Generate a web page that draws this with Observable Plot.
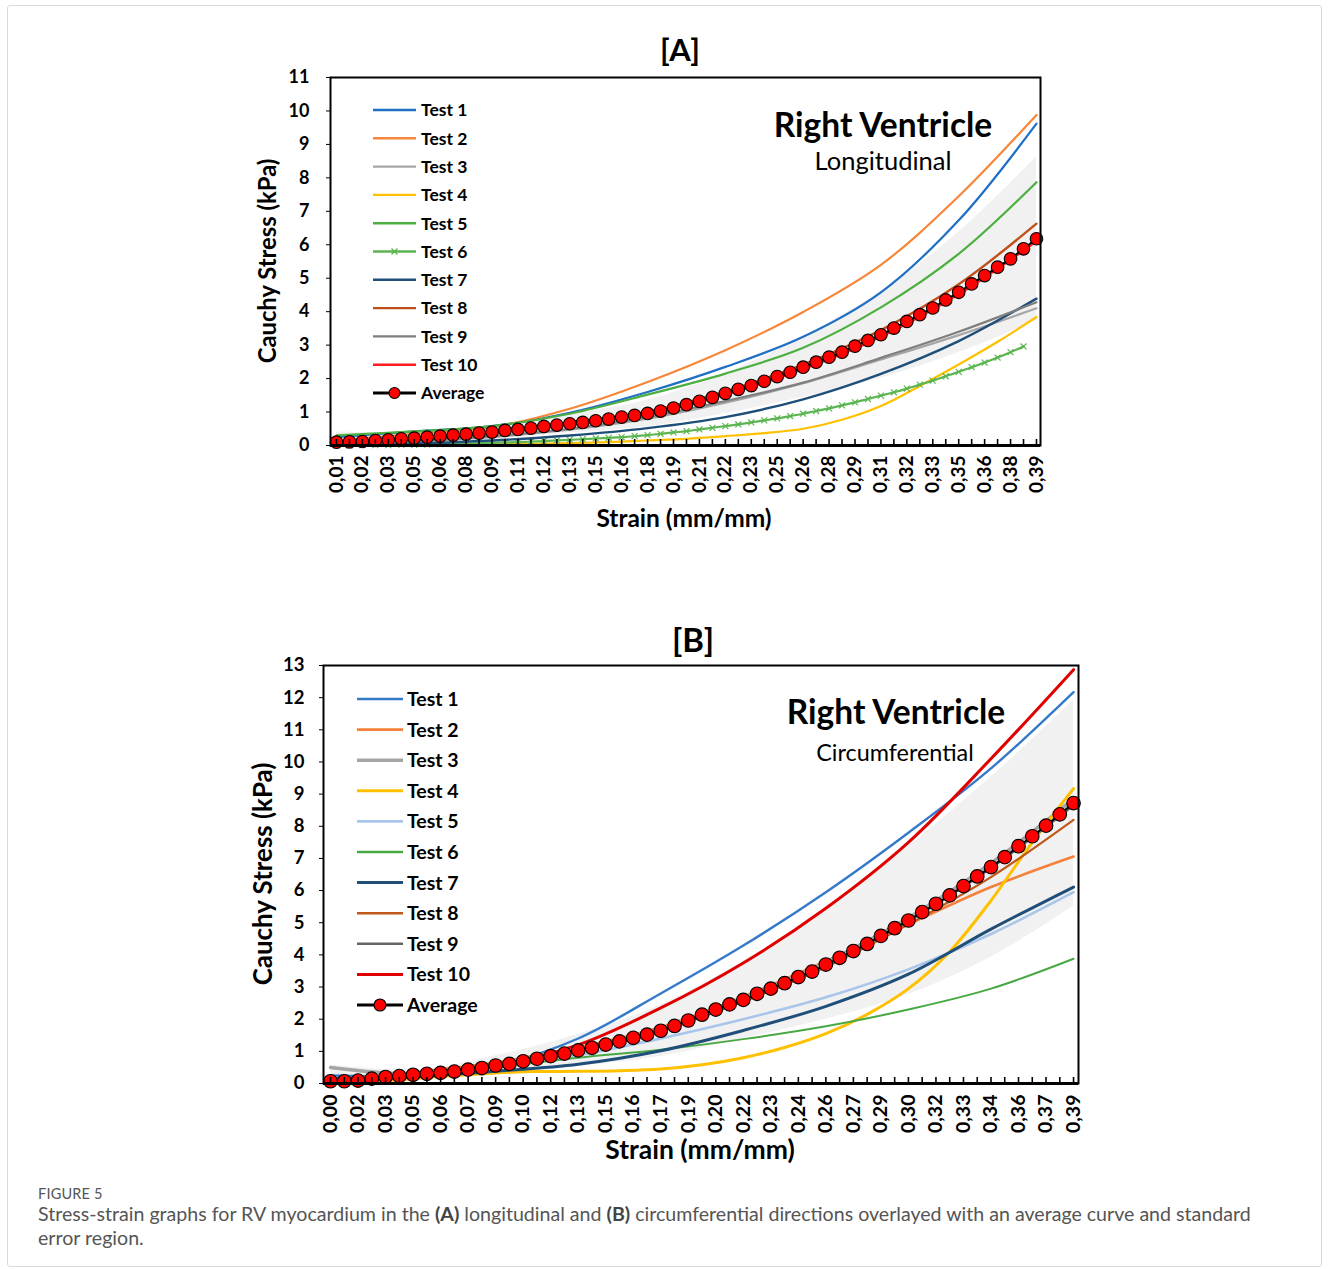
<!DOCTYPE html>
<html><head><meta charset="utf-8">
<script src="https://cdn.jsdelivr.net/npm/d3@7"></script>
<script src="https://cdn.jsdelivr.net/npm/@observablehq/plot@0.6"></script>
<style>
body{margin:0;background:#fff;}
#page{position:relative;width:1330px;height:1269px;font-family:Lato,"Open Sans",sans-serif;overflow:hidden;}
.abs{position:absolute;white-space:nowrap;line-height:1;}
.c{transform:translate(-50%,-50%);}
#border{position:absolute;left:7px;top:5px;width:1315px;height:1262px;border:1px solid #d9d9d9;border-radius:3px;box-sizing:border-box;}
#fig{position:absolute;left:38px;top:1186px;font-size:14.5px;line-height:16px;color:#555;letter-spacing:0.2px;}
.capline{position:absolute;left:38px;font-size:19.6px;line-height:22px;color:#555;white-space:nowrap;}
.capline b{color:#444;}
</style></head><body><div id="page"><div id="border"></div></div>
<script>
// ---------- shared category grids ----------
const grid6 = [0, 6, 12, 18, 24, 30, 36, 42, 48, 54];
const grid3 = [0, 3, 6, 9, 12, 15, 18, 21, 24, 27, 30, 33, 36, 39, 42, 45, 48, 51, 54];

// ---------- chart A (longitudinal) ----------
const xLabelsA = ["0,01","0,02","0,03","0,05","0,06","0,08","0,09","0,11","0,12","0,13","0,15","0,16","0,18","0,19","0,21","0,22","0,23","0,25","0,26","0,28","0,29","0,31","0,32","0,33","0,35","0,36","0,38","0,39"];
const yTicksA = [0,1,2,3,4,5,6,7,8,9,10,11];
const avgA = [0.10,0.11,0.12,0.15,0.17,0.20,0.22,0.25,0.28,0.31,0.34,0.37,0.40,0.45,0.48,0.52,0.57,0.61,0.65,0.69,0.74,0.79,0.85,0.90,0.96,1.03,1.12,1.22,1.32,1.44,1.56,1.68,1.79,1.92,2.06,2.19,2.34,2.49,2.64,2.79,2.97,3.14,3.31,3.51,3.71,3.91,4.11,4.35,4.58,4.83,5.08,5.33,5.58,5.88,6.18];
const seA = [0.30, 0.15, 0.20, 0.28, 0.40, 0.60, 0.90, 1.30, 1.80, 2.45];
const t1A = [0.25, 0.42, 0.58, 0.98, 1.60, 2.35, 3.25, 4.58, 6.73, 9.62];
const t2A = [0.15, 0.35, 0.55, 1.10, 1.90, 2.85, 3.99, 5.40, 7.45, 9.88];
const t3A = [0.04, 0.11, 0.25, 0.47, 0.80, 1.28, 1.86, 2.57, 3.30, 4.10];
const t4A = [0.00, 0.00, 0.01, 0.02, 0.03, 0.05, 0.07, 0.10, 0.15, 0.20, 0.28, 0.37, 0.50, 0.77, 1.18, 1.78, 2.42, 3.10, 3.84];
const t5A = [0.30, 0.42, 0.58, 0.95, 1.52, 2.15, 2.92, 4.13, 5.73, 7.87];
const t6A = [0.00,0.00,0.01,0.01,0.01,0.02,0.02,0.03,0.04,0.05,0.06,0.07,0.08,0.09,0.10,0.12,0.13,0.15,0.17,0.19,0.21,0.23,0.25,0.28,0.31,0.35,0.39,0.43,0.48,0.53,0.58,0.63,0.69,0.75,0.81,0.88,0.95,1.03,1.11,1.20,1.29,1.39,1.49,1.59,1.70,1.82,1.94,2.07,2.20,2.34,2.48,2.63,2.79,2.96];
const t7A = [0.02, 0.06, 0.15, 0.30, 0.52, 0.85, 1.38, 2.14, 3.12, 4.39];
const t8A = [0.10, 0.24, 0.43, 0.70, 1.02, 1.62, 2.42, 3.45, 4.82, 6.63];
const t9A = [0.05, 0.13, 0.28, 0.50, 0.85, 1.33, 1.88, 2.62, 3.40, 4.28];
const t10A = [0.10, 0.21, 0.38, 0.63, 0.94, 1.52, 2.28, 3.25, 4.52, 6.10];

// ---------- chart B (circumferential) ----------
const xLabelsB = ["0,00","0,02","0,03","0,05","0,06","0,07","0,09","0,10","0,12","0,13","0,15","0,16","0,17","0,19","0,20","0,22","0,23","0,24","0,26","0,27","0,29","0,30","0,32","0,33","0,34","0,36","0,37","0,39"];
const yTicksB = [0,1,2,3,4,5,6,7,8,9,10,11,12,13];
const avgB = [0.07,0.07,0.09,0.15,0.20,0.23,0.27,0.30,0.33,0.37,0.43,0.48,0.56,0.61,0.69,0.77,0.85,0.93,1.03,1.11,1.21,1.31,1.42,1.52,1.64,1.79,1.96,2.14,2.30,2.46,2.60,2.79,2.95,3.12,3.31,3.48,3.70,3.91,4.12,4.34,4.59,4.83,5.07,5.33,5.59,5.85,6.14,6.44,6.73,7.04,7.38,7.69,8.02,8.37,8.72];
const seB = [0.50, 0.15, 0.30, 0.50, 0.80, 1.20, 1.70, 2.30, 2.80, 3.20];
const t1B = [0.25, 0.25, 0.55, 1.40, 2.80, 4.29, 5.95, 7.80, 9.80, 12.17];
const t2B = [0.10, 0.35, 0.65, 1.12, 1.75, 2.70, 3.80, 4.95, 6.11, 7.06];
const t3B = [0.50, 0.30, 0.58, 1.05, 1.68, 2.65, 3.78, 5.15, 6.85, 8.85];
const t4B = [0.00, 0.05, 0.15, 0.25, 0.33, 0.37, 0.38, 0.40, 0.45, 0.58, 0.80, 1.12, 1.55, 2.15, 2.95, 4.10, 5.69, 7.50, 9.17];
const t5B = [0.10, 0.25, 0.52, 0.88, 1.40, 2.00, 2.68, 3.55, 4.65, 5.95];
const t6B = [0.10, 0.25, 0.50, 0.80, 1.05, 1.38, 1.78, 2.30, 2.95, 3.88];
const t7B = [0.10, 0.20, 0.38, 0.60, 1.02, 1.65, 2.40, 3.40, 4.80, 6.11];
const t8B = [0.05, 0.30, 0.60, 1.05, 1.65, 2.55, 3.62, 4.95, 6.42, 8.20];
const t9B = [0.05, 0.27, 0.55, 1.00, 1.62, 2.58, 3.68, 5.05, 6.70, 8.65];
const t10B = [0.15, 0.25, 0.55, 1.20, 2.35, 3.75, 5.45, 7.50, 10.10, 12.87];

const names = ["Test 1","Test 2","Test 3","Test 4","Test 5","Test 6","Test 7","Test 8","Test 9","Test 10"];
const colorsA = ["#1f6fc5","#f7863a","#a6a6a6","#ffc000","#4caf3f","#5bb550","#1f4e79","#c0501a","#7f7f7f","#ff1f1f"];
const colorsB = ["#3579c9","#f5803a","#a5a5a5","#ffc000","#a9c5ea","#48a843","#1f4e79","#c0581a","#666666","#e00000"];
const widthsA = [2.2,2.2,2.2,2.2,2.2,2.2,2.4,2.4,2.2,2.2];
const widthsB = [2.4,2.6,3.5,3,2.6,2,3,2.2,2.4,3];

const FONT = "Lato, 'Open Sans', sans-serif";
const page = document.getElementById("page");

function xsFor(vals) {
  if (vals.length === grid6.length) return grid6;
  if (vals.length === grid3.length) return grid3;
  return vals.map((_, k) => k);
}
function rows(vals) { const xs = xsFor(vals); return vals.map((v, k) => ({i: xs[k], v})); }

function addText(txt, x, y, style) {
  const d = document.createElement("div");
  d.className = "abs c";
  d.textContent = txt;
  Object.assign(d.style, {left: x + "px", top: y + "px"}, style || {});
  page.appendChild(d);
  return d;
}

function makeChart(cfg) {
  const innerH = cfg.height - cfg.mt - cfg.mb;
  const band = grid6.map((g, k) => ({i: g, lo: cfg.avg[g] - cfg.se[k], hi: cfg.avg[g] + cfg.se[k]}));
  const avgRows = cfg.avg.map((v, k) => ({i: k, v}));
  const marks = [
    Plot.areaY(band, {x: "i", y1: "lo", y2: "hi", fill: "#f1f1f1", curve: "monotone-x", clip: true}),
  ];
  cfg.tests.forEach((vals, k) => {
    marks.push(Plot.line(rows(vals), {x: "i", y: "v", stroke: cfg.colors[k], strokeWidth: cfg.widths[k], curve: "catmull-rom", clip: true}));
    if (cfg.markerIdx === k) {
      marks.push(Plot.dot(rows(vals), {x: "i", y: "v", symbol: "times", r: 2.8, stroke: cfg.colors[k], strokeWidth: 1.2}));
    }
  });
  marks.push(Plot.line(avgRows, {x: "i", y: "v", stroke: "black", strokeWidth: 2}));
  marks.push(Plot.dot(avgRows, {x: "i", y: "v", r: cfg.r, fill: "#ff0000", stroke: "black", strokeWidth: 1.1}));
  marks.push(Plot.ruleX(d3.range(0, 55), {x: d => d, insetTop: innerH - 6, stroke: "black", strokeWidth: 1.6}));
  marks.push(Plot.frame({stroke: "black", strokeWidth: 2}));
  marks.push(Plot.ruleY([0], {stroke: "black", strokeWidth: 3}));
  marks.push(Plot.axisY({ticks: cfg.yTicks, tickSize: 4, tickPadding: cfg.yPad, tickFormat: d => String(d), label: null, fontSize: cfg.tickFont, fontWeight: "bold"}));
  marks.push(Plot.axisX({ticks: cfg.xLabels.map((_, k) => k * 2), tickFormat: d => cfg.xLabels[d / 2], tickRotate: -90, tickSize: 0, tickPadding: cfg.xPad, label: null, fontSize: cfg.xTickFont, fontWeight: "bold"}));

  const svg = Plot.plot({
    width: cfg.width, height: cfg.height,
    marginLeft: cfg.ml, marginRight: cfg.mr, marginTop: cfg.mt, marginBottom: cfg.mb,
    x: {type: "linear", domain: cfg.xDomain, label: null},
    y: {type: "linear", domain: cfg.yDomain, label: null},
    style: {fontFamily: FONT, fontWeight: "bold", color: "black", background: "transparent", overflow: "visible"},
    marks
  });
  svg.style.position = "absolute";
  svg.style.left = cfg.left + "px";
  svg.style.top = cfg.top + "px";
  page.appendChild(svg);

  // legend inside the plot area
  const g = d3.select(svg).append("g").attr("font-family", FONT).attr("font-weight", "bold")
    .attr("font-size", cfg.legFont).attr("fill", "black").attr("text-anchor", "start");
  const items = names.map((n, k) => ({n, c: cfg.colors[k], w: Math.max(cfg.widths[k], 2.4), mk: cfg.markerIdx === k ? "x" : null}));
  items.push({n: "Average", c: "black", w: 3, mk: "o"});
  items.forEach((it, k) => {
    const cy = cfg.legY - cfg.top + k * cfg.legStep;
    const x1 = cfg.legX1 - cfg.left, x2 = cfg.legX2 - cfg.left;
    g.append("line").attr("x1", x1).attr("x2", x2).attr("y1", cy).attr("y2", cy).attr("stroke", it.c).attr("stroke-width", it.w);
    const mx = (x1 + x2) / 2;
    if (it.mk === "o") g.append("circle").attr("cx", mx).attr("cy", cy).attr("r", cfg.r - 0.8).attr("fill", "#ff0000").attr("stroke", "black").attr("stroke-width", 1.1);
    if (it.mk === "x") {
      g.append("path").attr("d", `M${mx-3},${cy-3}L${mx+3},${cy+3}M${mx-3},${cy+3}L${mx+3},${cy-3}`).attr("stroke", it.c).attr("stroke-width", 1.3);
    }
    g.append("text").attr("x", cfg.legTX - cfg.left).attr("y", cy).attr("dy", "0.36em").text(it.n);
  });
  return svg;
}

makeChart({
  left: 200, top: 60, width: 880, height: 480, ml: 130, mr: 40, mt: 17, mb: 95,
  xDomain: [-0.46, 54.31], yDomain: [0, 11], yTicks: yTicksA, xLabels: xLabelsA,
  avg: avgA, se: seA, tests: [t1A,t2A,t3A,t4A,t5A,t6A,t7A,t8A,t9A,t10A],
  colors: colorsA, widths: widthsA, markerIdx: 5, r: 6.3,
  tickFont: 18, xTickFont: 19, yPad: 17, xPad: 10,
  legFont: 17.5, legX1: 373, legX2: 416, legTX: 421, legY: 110, legStep: 28.3
});
makeChart({
  left: 200, top: 650, width: 900, height: 520, ml: 123, mr: 22, mt: 15, mb: 87,
  xDomain: [-0.51, 54.36], yDomain: [0, 13], yTicks: yTicksB, xLabels: xLabelsB,
  avg: avgB, se: seB, tests: [t1B,t2B,t3B,t4B,t5B,t6B,t7B,t8B,t9B,t10B],
  colors: colorsB, widths: widthsB, markerIdx: -1, r: 6.8,
  tickFont: 18.5, xTickFont: 19.5, yPad: 15, xPad: 11,
  legFont: 19.5, legX1: 357, legX2: 403, legTX: 407, legY: 699, legStep: 30.6
});

// titles and annotations
const bold = {fontWeight: "bold", color: "#000"};
addText("[A]", 680, 49, Object.assign({fontSize: "31px"}, bold));
addText("[B]", 693, 639, Object.assign({fontSize: "33px"}, bold));
addText("Right Ventricle", 883, 125, Object.assign({fontSize: "33.5px"}, bold));
addText("Longitudinal", 883, 161, {fontSize: "25.5px", color: "#000"});
addText("Right Ventricle", 896, 712, Object.assign({fontSize: "33.5px"}, bold));
addText("Circumferential", 895, 753, {fontSize: "23.4px", color: "#000"});
addText("Strain (mm/mm)", 684, 518, Object.assign({fontSize: "24.5px"}, bold));
addText("Strain (mm/mm)", 700, 1149, Object.assign({fontSize: "26.5px"}, bold));
addText("Cauchy Stress (kPa)", 268, 261, Object.assign({fontSize: "23.8px", transform: "translate(-50%,-50%) rotate(-90deg)"}, bold));
addText("Cauchy Stress (kPa)", 263, 874, Object.assign({fontSize: "25.9px", transform: "translate(-50%,-50%) rotate(-90deg)"}, bold));

const fig = document.createElement("div"); fig.id = "fig"; fig.textContent = "FIGURE 5"; page.appendChild(fig);
const cap1 = document.createElement("div"); cap1.className = "capline"; cap1.style.top = "1203px";
cap1.innerHTML = "Stress-strain graphs for RV myocardium in the <b>(A)</b> longitudinal and <b>(B)</b> circumferential directions overlayed with an average curve and standard";
page.appendChild(cap1);
const cap2 = document.createElement("div"); cap2.className = "capline"; cap2.style.top = "1227px";
cap2.textContent = "error region.";
page.appendChild(cap2);
</script></body></html>
